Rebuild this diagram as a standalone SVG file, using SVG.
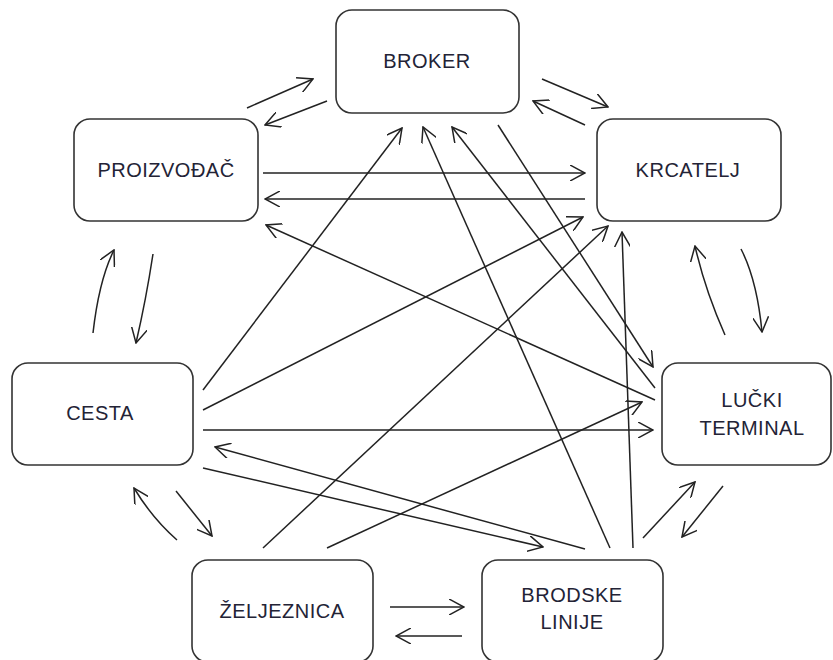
<svg xmlns="http://www.w3.org/2000/svg" width="833" height="660" viewBox="0 0 833 660">
<style>
.box{fill:#fff;stroke:#333;stroke-width:1.6}
.lbl{font-family:"Liberation Sans",Arial,sans-serif;font-size:20px;fill:#232336;text-anchor:middle;letter-spacing:0.5px}
.c{fill:none;stroke:#222;stroke-width:1.5;marker-end:url(#ah)}
</style>
<defs>
<marker id="ah" viewBox="0 0 16 16" refX="15" refY="8" markerWidth="16" markerHeight="16" markerUnits="userSpaceOnUse" orient="auto">
<path d="M0,0 L15,8 L0,16" fill="none" stroke="#222" stroke-width="1.5"/>
</marker>
</defs>
<rect width="833" height="660" fill="#fff"/>
<g id="connectors">
<path class="c" d="M247,108 L313,79"/>
<path class="c" d="M327,101 L265,125"/>
<path class="c" d="M542,79 L608,107"/>
<path class="c" d="M585,125 L533,101"/>
<path class="c" d="M263,173 L585,173"/>
<path class="c" d="M585,199 L265,199"/>
<path class="c" d="M93,333 Q99,280 114,250"/>
<path class="c" d="M153,254 Q146,300 136,343"/>
<path class="c" d="M177,540 Q152,518 134,488"/>
<path class="c" d="M176,491 L212,536"/>
<path class="c" d="M725,335 Q705,290 695,246"/>
<path class="c" d="M741,249 Q757,280 762,332"/>
<path class="c" d="M643,538 L695,482"/>
<path class="c" d="M723,486 Q702,512 682,537"/>
<path class="c" d="M390,607 L464,607"/>
<path class="c" d="M462,636 L396,636"/>
<path class="c" d="M203,390 L402,128"/>
<path class="c" d="M203,410 L583,217"/>
<path class="c" d="M203,430 L653,430"/>
<path class="c" d="M585,549 L215,447"/>
<path class="c" d="M203,468 L543,547"/>
<path class="c" d="M263,548 L608,226"/>
<path class="c" d="M327,548 L642,402"/>
<path class="c" d="M610,548 L423,127"/>
<path class="c" d="M633,548 L622,232"/>
<path class="c" d="M655,388 L452,127"/>
<path class="c" d="M498,125 L653,367"/>
<path class="c" d="M655,400 L266,225"/>
</g>
<g id="broker"><rect class="box" x="336" y="10" width="183" height="103" rx="16"/><text class="lbl" x="427" y="68">BROKER</text></g>
<g id="proizvodjac"><rect class="box" x="74" y="119" width="184" height="102" rx="16"/><text class="lbl" x="166" y="177">PROIZVOĐAČ</text></g>
<g id="krcatelj"><rect class="box" x="597" y="119" width="184" height="102" rx="16"/><text class="lbl" x="688" y="177">KRCATELJ</text></g>
<g id="cesta"><rect class="box" x="12" y="363" width="181" height="102" rx="16"/><text class="lbl" x="100" y="420">CESTA</text></g>
<g id="lucki-terminal"><rect class="box" x="662" y="363" width="169" height="102" rx="16"/><text class="lbl" x="752" y="407">LUČKI</text><text class="lbl" x="752" y="435">TERMINAL</text></g>
<g id="zeljeznica"><rect class="box" x="192" y="560" width="181" height="102" rx="16"/><text class="lbl" x="282" y="618">ŽELJEZNICA</text></g>
<g id="brodske-linije"><rect class="box" x="482" y="560" width="181" height="102" rx="16"/><text class="lbl" x="572" y="602">BRODSKE</text><text class="lbl" x="572" y="629">LINIJE</text></g>
</svg>
